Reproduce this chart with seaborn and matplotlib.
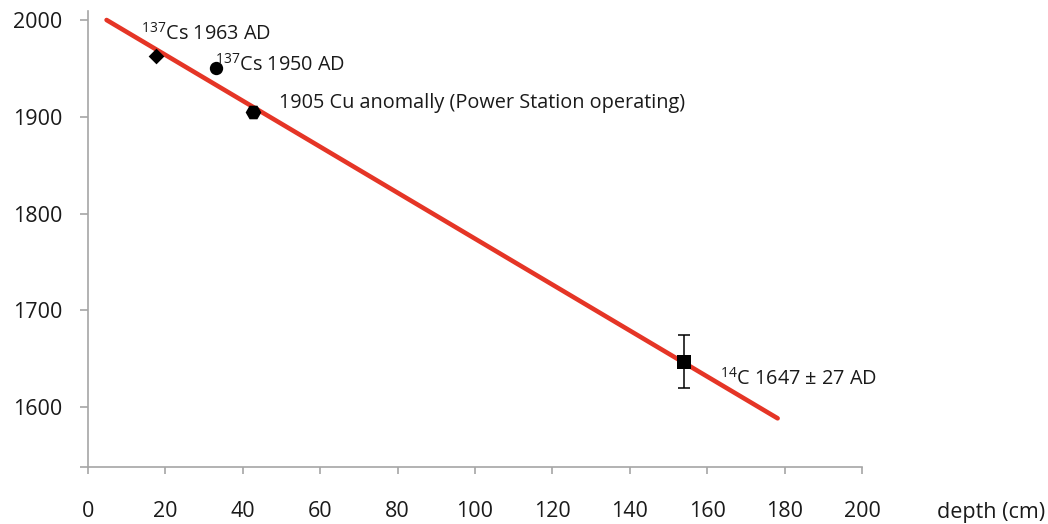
import matplotlib
matplotlib.use("Agg")
import matplotlib.pyplot as plt
import seaborn as sns
import pandas as pd

# Age-depth model (linear fit)
model_depth = [4.8, 178.2]
model_year = [2000, 1588.3]

# Dated horizons
horizon_names = ["Cs1963", "Cs1950", "Cu1905", "C14"]
horizon_depth = [17.7, 33.1, 42.7, 154.0]
horizon_year = [1963, 1950, 1905, 1647]
horizon_err = [0, 0, 0, 27]
horizon_labels = [
    r"$^{137}$Cs 1963 AD",
    r"$^{137}$Cs 1950 AD",
    "1905 Cu anomally (Power Station operating)",
    r"$^{14}$C 1647 ± 27 AD",
]

x_ticks = [0, 20, 40, 60, 80, 100, 120, 140, 160, 180, 200]
y_ticks = [1600, 1700, 1800, 1900, 2000]

sns.set_theme(style="white")
plt.rcParams["font.family"] = ["Open Sans", "DejaVu Sans"]
plt.rcParams["mathtext.default"] = "regular"

fig = plt.figure(figsize=(10.48, 5.24), dpi=100)
ax = fig.add_axes([88 / 1048, 57 / 524, (862 - 88) / 1048, (467 - 11) / 524])

model = pd.DataFrame({"depth": model_depth, "year": model_year})
sns.lineplot(data=model, x="depth", y="year", ax=ax, color="#e53526",
             linewidth=3.3, solid_capstyle="round", zorder=2)

pts = pd.DataFrame({"name": horizon_names, "depth": horizon_depth,
                    "year": horizon_year, "err": horizon_err})
c14 = pts[pts["err"] > 0]
ax.errorbar(c14["depth"], c14["year"], yerr=c14["err"], fmt="none",
            ecolor="black", elinewidth=1.1, capsize=4.2, capthick=1.1, zorder=3)

marker_map = {"Cs1963": "D", "Cs1950": "o", "Cu1905": "H", "C14": "s"}
size_map = {"Cs1963": 8.0, "Cs1950": 9.6, "Cu1905": 11.3, "C14": 9.8}
for _, r in pts.iterrows():
    sns.scatterplot(x=[r["depth"]], y=[r["year"]], ax=ax, marker=marker_map[r["name"]],
                    s=size_map[r["name"]] ** 2, color="black", edgecolor="black",
                    linewidth=0, zorder=4, legend=False)

# label offsets (points) from each horizon marker
label_offsets = [(-11.2, 11.4), (-0.8, -1.9), (18.6, 2.6), (25.9, -16.4)]
for (d, y), lab, off in zip(zip(horizon_depth, horizon_year), horizon_labels, label_offsets):
    ax.annotate(lab, xy=(d, y), xytext=off, textcoords="offset points",
                ha="left", va="baseline", fontsize=14.3, color="#1a1a1a")

ax.set_xlim(0, 200)
ax.set_ylim(1538, 2009.3)
ax.set_xticks(x_ticks)
ax.set_xticklabels([str(t) for t in x_ticks])
ax.set_yticks([1538] + y_ticks)
ax.set_yticklabels([""] + [str(t) for t in y_ticks])

axis_grey = "#a6a6a6"
for side in ["top", "right"]:
    ax.spines[side].set_visible(False)
for side in ["left", "bottom"]:
    ax.spines[side].set_color(axis_grey)
    ax.spines[side].set_linewidth(1.2)

ax.tick_params(axis="x", direction="out", length=5.2, width=1.2, color=axis_grey,
               pad=19.5, labelsize=15.5, labelcolor="#1a1a1a", bottom=True)
ax.tick_params(axis="y", direction="out", length=5.8, width=1.2, color=axis_grey,
               pad=12.5, labelsize=15.5, labelcolor="#1a1a1a", left=True)
ax.set_xlabel("")
ax.set_ylabel("")

ax.text((936.5 - 88) / (862 - 88), (467 - 518) / (467 - 11), "depth (cm)",
        transform=ax.transAxes, ha="left", va="baseline", fontsize=15.5, color="#1a1a1a")

fig.savefig("out.png", dpi=100, facecolor="white")
